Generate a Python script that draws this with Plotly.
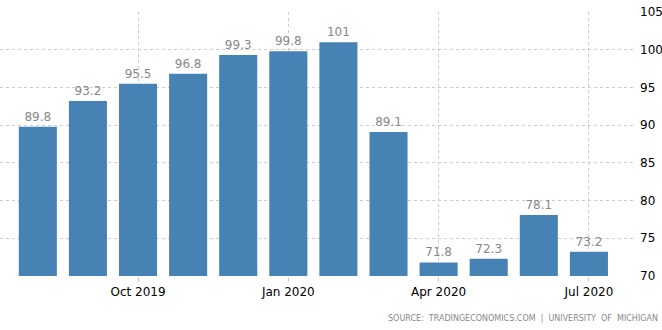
import plotly.graph_objects as go

# Michigan consumer sentiment, monthly
months = ["Aug 2019", "Sep 2019", "Oct 2019", "Nov 2019", "Dec 2019", "Jan 2020",
          "Feb 2020", "Mar 2020", "Apr 2020", "May 2020", "Jun 2020", "Jul 2020"]
sentiment = [89.8, 93.2, 95.5, 96.8, 99.3, 99.8, 101, 89.1, 71.8, 72.3, 78.1, 73.2]
value_labels = ["89.8", "93.2", "95.5", "96.8", "99.3", "99.8", "101", "89.1",
                "71.8", "72.3", "78.1", "73.2"]
x_ticks = ["Oct 2019", "Jan 2020", "Apr 2020", "Jul 2020"]
y_ticks = [70, 75, 80, 85, 90, 95, 100, 105]

fig = go.Figure(go.Bar(
    x=months,
    y=sentiment,
    text=value_labels,
    textposition="outside",
    cliponaxis=False,
    textfont=dict(family="DejaVu Sans", size=12, color="#888888"),
    marker=dict(color="#4682B4", line=dict(width=0)),
    width=0.76,
))

fig.update_layout(
    width=662,
    height=330,
    margin=dict(l=0, r=27, t=12, b=54),
    paper_bgcolor="white",
    plot_bgcolor="white",
    showlegend=False,
    xaxis=dict(
        type="category",
        range=[-0.755, 11.92],
        tickmode="array",
        tickvals=x_ticks,
        ticktext=x_ticks,
        ticks="outside",
        ticklen=5,
        tickcolor="#cccccc",
        showgrid=True,
        gridcolor="#cccccc",
        griddash="dot",
        gridwidth=1,
        showline=False,
        zeroline=False,
        tickfont=dict(family="DejaVu Sans", size=12, color="#000000"),
    ),
    yaxis=dict(
        side="right",
        range=[70, 105],
        tickvals=y_ticks,
        showgrid=True,
        gridcolor="#cccccc",
        griddash="dot",
        gridwidth=1,
        zeroline=False,
        showline=False,
        ticks="",
        ticklabelstandoff=4,
        tickfont=dict(family="DejaVu Sans", size=12, color="#000000"),
    ),
    annotations=[dict(
        text="SOURCE:  TRADINGECONOMICS.COM  |  UNIVERSITY  OF  MICHIGAN",
        xref="paper", yref="paper",
        x=1.04, y=-0.16,
        xanchor="right", yanchor="middle",
        showarrow=False,
        font=dict(family="DejaVu Sans", size=8, color="#888888"),
    )],
)

fig.write_html("out.html")
